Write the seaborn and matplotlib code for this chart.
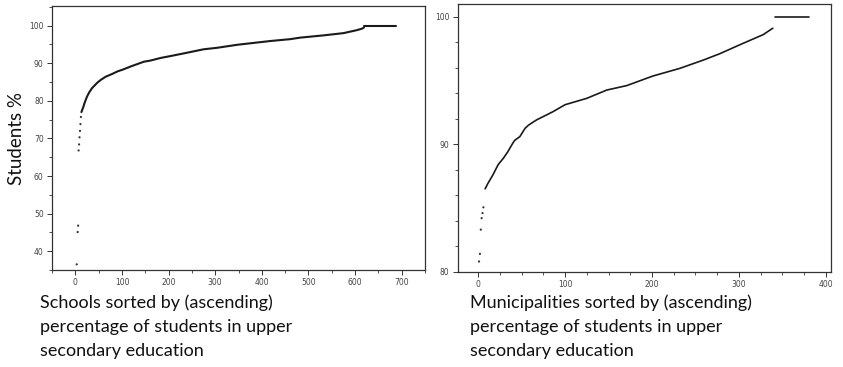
import numpy as np
import pandas as pd
import matplotlib
matplotlib.use("Agg")
import matplotlib.pyplot as plt
import seaborn as sns
from matplotlib.ticker import MultipleLocator

# ---------------- data ----------------
# Left: schools sorted by percentage
school_rank_sparse = [3, 5, 6, 7, 8, 9, 10, 11, 12]
school_pct_sparse = [36.5, 45.1, 46.8, 66.8, 68.4, 70.3, 72.0, 73.8, 75.7]
school_rank = [13, 17, 20, 25, 30, 36, 47, 55, 65, 80, 90, 104, 118, 147, 161,
               183, 204, 240, 275, 304, 347, 418, 461, 482, 532, 575, 604,
               615, 619]
school_pct = [77.0, 78.3, 79.5, 81.1, 82.3, 83.4, 84.8, 85.6, 86.4, 87.2, 87.8,
              88.4, 89.1, 90.4, 90.7, 91.4, 91.9, 92.8, 93.7, 94.1, 94.9, 95.9,
              96.4, 96.8, 97.4, 98.0, 98.8, 99.2, 99.5]
school_full_rank = [620, 688]
school_full_pct = [100, 100]

# Right: municipalities sorted by percentage
muni_rank_sparse = [1, 2, 3, 4, 5, 6]
muni_pct_sparse = [80.8, 81.4, 83.3, 84.2, 84.6, 85.05]
muni_rank = [8, 11, 17, 23, 29, 34, 40, 42, 48, 54, 58, 67, 86, 100, 125, 148,
             171, 201, 232, 259, 278, 301, 328, 339]
muni_pct = [86.5, 86.9, 87.6, 88.4, 88.9, 89.4, 90.1, 90.3, 90.6, 91.25, 91.5,
            91.9, 92.55, 93.1, 93.6, 94.25, 94.6, 95.35, 95.95, 96.6, 97.1,
            97.8, 98.6, 99.1]
muni_full_rank = [341, 381]
muni_full_pct = [100, 100]

ylabel_text = "Students %"
left_caption = "Schools sorted by (ascending)\npercentage of students in upper\nsecondary education"
right_caption = "Municipalities sorted by (ascending)\npercentage of students in upper\nsecondary education"

# ---------------- style ----------------
sns.set_style("white")
plt.rcParams["font.family"] = ["DejaVu Sans"]

fig = plt.figure(figsize=(8.43, 3.67), dpi=100)
axL = fig.add_axes([0.0617, 0.2643, 0.4425, 0.7202])
axR = fig.add_axes([0.5430, 0.2597, 0.4428, 0.7294])

line_col = "#1a1a1a"
spine_col = "#333333"
tick_col = "#444444"


def draw(ax, rs, ps, r, p, fr, fp, lw):
    sns.scatterplot(x=rs, y=ps, ax=ax, s=2.5, color="#333333",
                    edgecolor="none", legend=False)
    sns.lineplot(x=r, y=p, ax=ax, color=line_col, lw=lw, legend=False,
                 sort=False, estimator=None)
    sns.lineplot(x=fr, y=fp, ax=ax, color=line_col, lw=lw, legend=False,
                 sort=False, estimator=None)


draw(axL, school_rank_sparse, school_pct_sparse, school_rank, school_pct,
     school_full_rank, school_full_pct, 1.5)
draw(axR, muni_rank_sparse, muni_pct_sparse, muni_rank, muni_pct,
     muni_full_rank, muni_full_pct, 1.2)

axL.set_xlim(-50, 750)
axL.set_ylim(35, 105.3)
axL.xaxis.set_major_locator(MultipleLocator(100))
axL.xaxis.set_minor_locator(MultipleLocator(50))
axL.yaxis.set_major_locator(MultipleLocator(10))
axL.yaxis.set_minor_locator(MultipleLocator(5))

axR.set_xlim(-23.5, 406)
axR.set_ylim(80, 101)
axR.xaxis.set_major_locator(MultipleLocator(100))
axR.xaxis.set_minor_locator(MultipleLocator(25))
axR.yaxis.set_major_locator(MultipleLocator(10))
axR.yaxis.set_minor_locator(MultipleLocator(2))

for ax in (axL, axR):
    ax.set_xlabel("")
    ax.set_ylabel("")
    for s in ax.spines.values():
        s.set_visible(True)
        s.set_color(spine_col)
        s.set_linewidth(0.9)
    ax.tick_params(which="major", direction="out", length=3.5, width=0.7,
                   color=spine_col, labelsize=5.5, labelcolor=tick_col, pad=2.5,
                   bottom=True, left=True, top=False, right=False)
    ax.tick_params(which="minor", direction="out", length=2, width=0.6,
                   color=spine_col, bottom=True, left=True, top=False,
                   right=False)

fig.text(17 / 843, 1 - 139 / 367, ylabel_text, rotation=90, ha="center",
         va="center", fontsize=13.5, family=["Lato", "DejaVu Sans"],
         color="#111111")

cap_kw = dict(ha="left", va="top", fontsize=13, family=["Lato", "DejaVu Sans"],
              color="#111111", linespacing=1.65)
fig.text(40 / 843, 1 - 294 / 367, left_caption, **cap_kw)
fig.text(470 / 843, 1 - 294 / 367, right_caption, **cap_kw)

fig.savefig("out.png", dpi=100, facecolor="white")
